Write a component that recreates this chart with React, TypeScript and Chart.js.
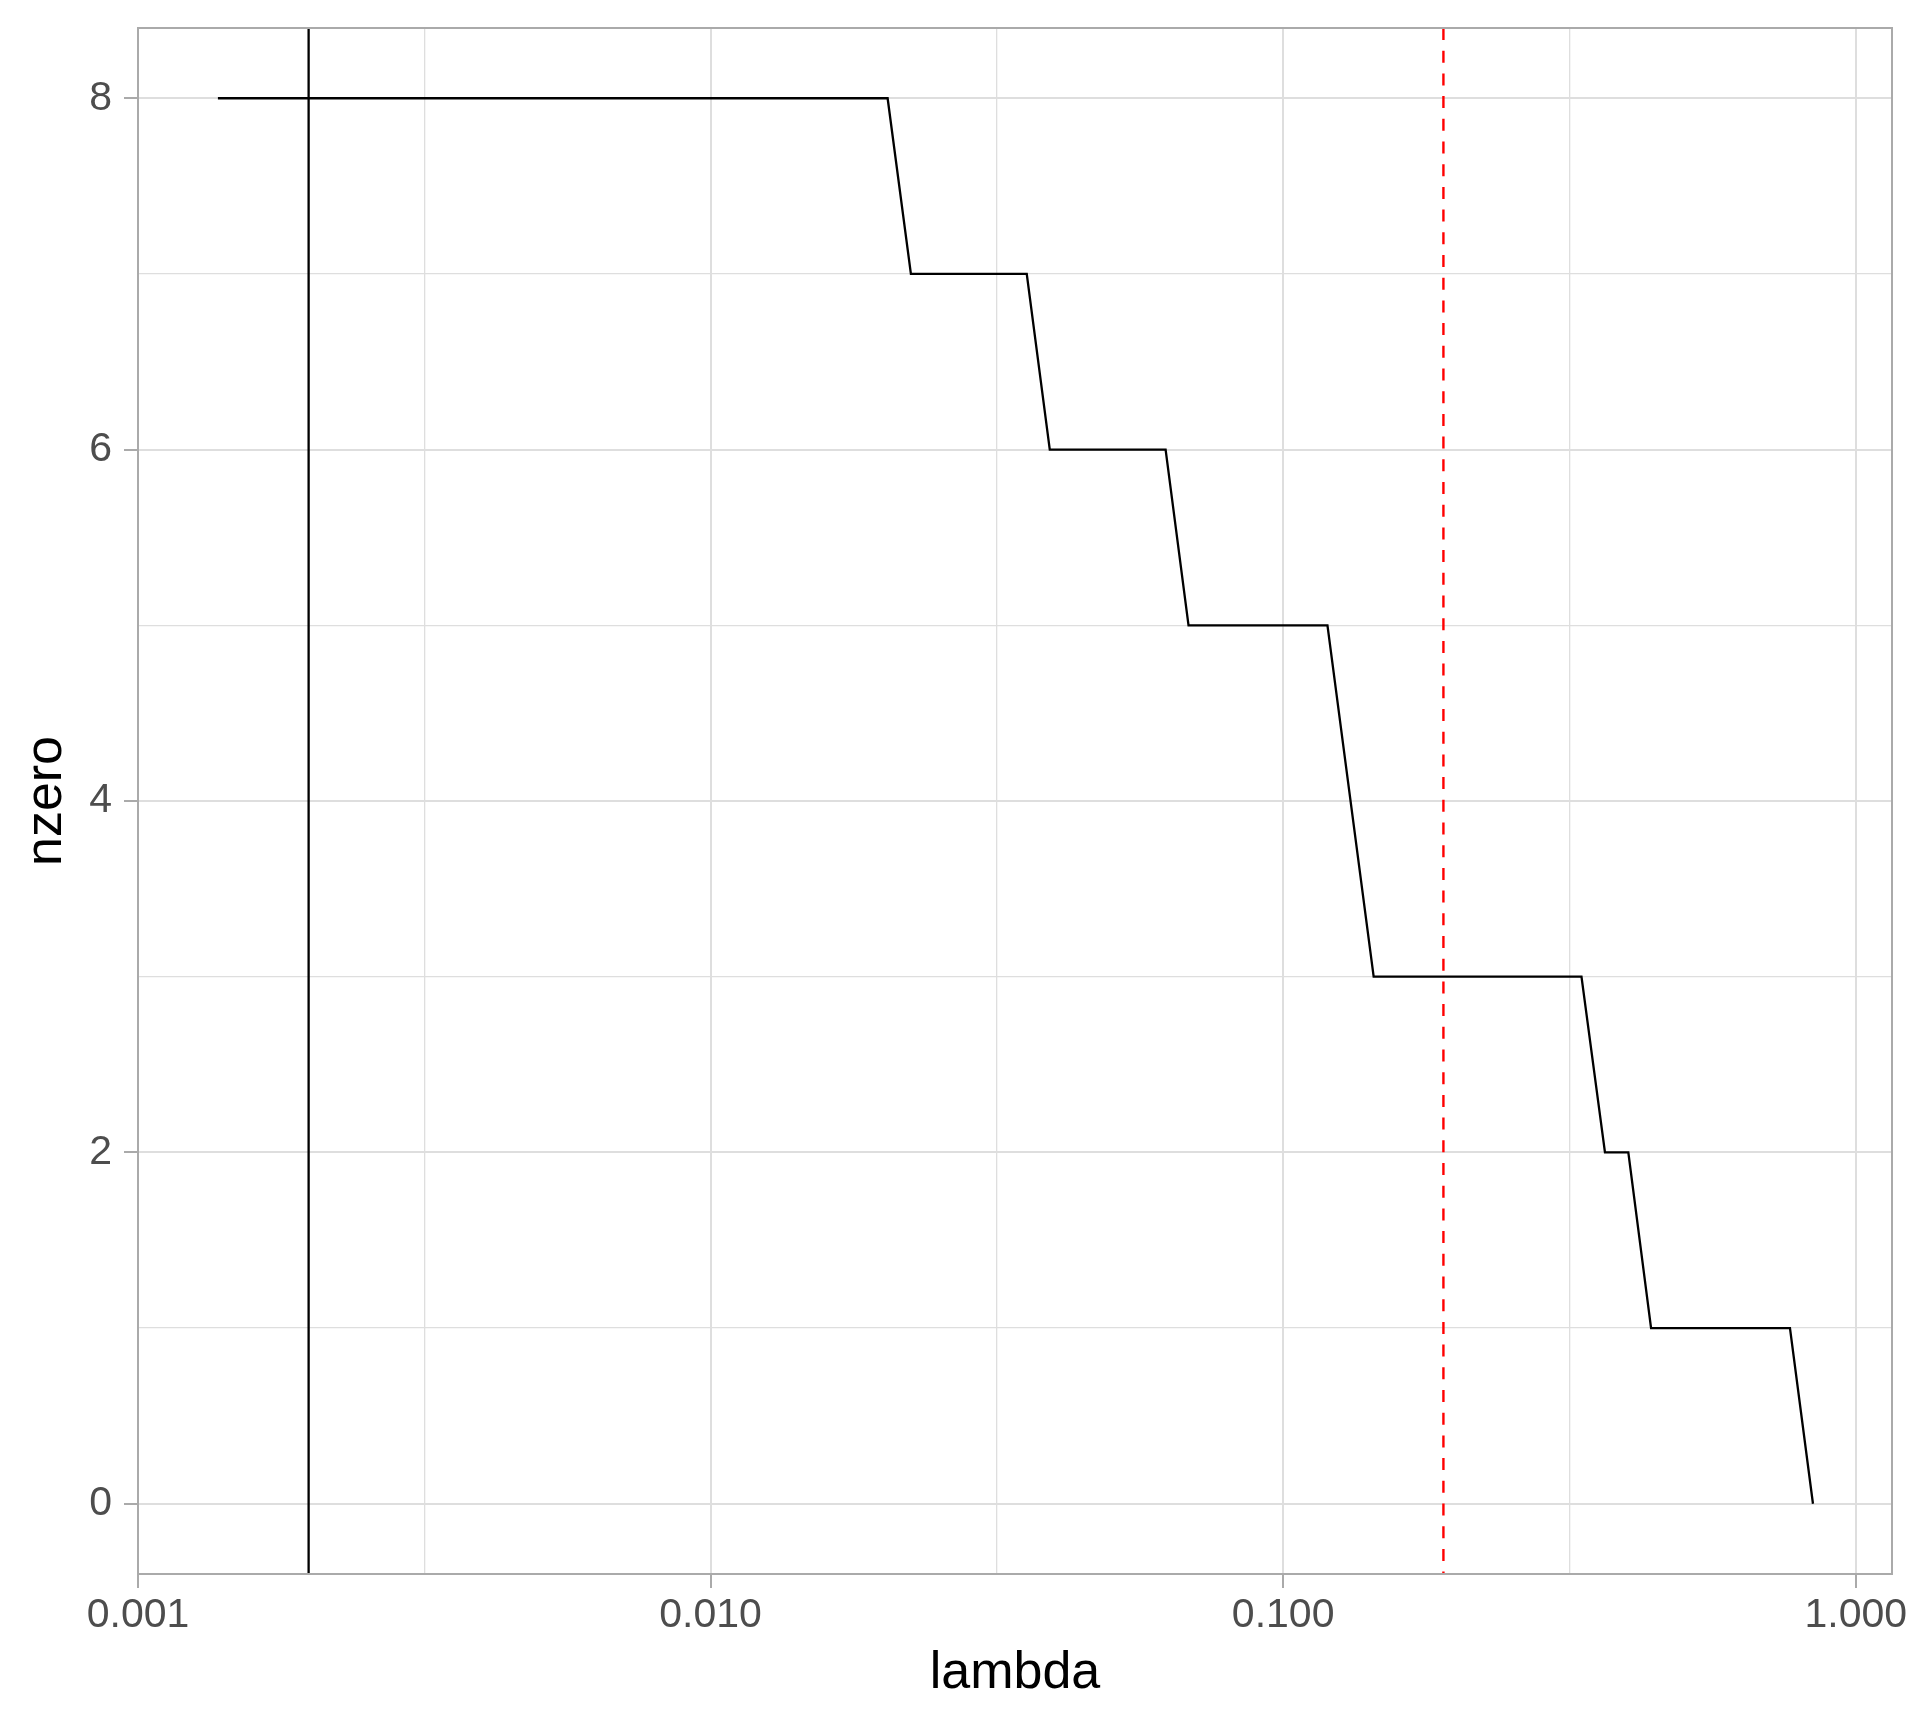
import React, { useEffect, useRef } from "react";
import { Chart, registerables } from "chart.js";

Chart.register(...registerables);

// ---- data ----
const lambdaValues = [
  0.001379, 0.02038, 0.02238, 0.03566, 0.03912, 0.06233, 0.06835, 0.1195,
  0.1439, 0.3319, 0.3648, 0.4007, 0.4391, 0.7676, 0.842,
];
const nzeroValues = [8, 8, 7, 7, 6, 6, 5, 5, 3, 3, 2, 2, 1, 1, 0];
const solidVLine = 0.001986;
const dashedVLine = 0.1905;

const xMajorTicks = [0.001, 0.01, 0.1, 1];
const xTickLabels = ["0.001", "0.010", "0.100", "1.000"];
const xMinorTicks = [0.0031623, 0.031623, 0.31623];
const yMajorTicks = [0, 2, 4, 6, 8];
const yTickLabels = ["0", "2", "4", "6", "8"];
const yMinorTicks = [1, 3, 5, 7];
const xLimits = [0.001, 1.157];
const yLimits = [-0.4, 8.4];

const GRID = "#DEDEDE";
const BORDER = "#AAAAAA";
const TICKTXT = "#4D4D4D";
const FONT = "'Liberation Sans', Arial, Helvetica, sans-serif";

const isMinorX = (v: number) => xMinorTicks.some((m) => Math.abs(m - v) / m < 1e-3);
const isMinorY = (v: number) => yMinorTicks.includes(v);

const panelBorder = {
  id: "panelBorder",
  afterDraw(chart: any) {
    const { ctx, chartArea } = chart;
    ctx.save();
    ctx.strokeStyle = BORDER;
    ctx.lineWidth = 2;
    ctx.strokeRect(
      chartArea.left,
      chartArea.top,
      chartArea.right - chartArea.left,
      chartArea.bottom - chartArea.top
    );
    ctx.restore();
  },
};

export default function App() {
  const ref = useRef<HTMLCanvasElement | null>(null);

  useEffect(() => {
    if (!ref.current) return;
    Chart.defaults.font.family = FONT;
    const stepData = lambdaValues.map((x, i) => ({ x, y: nzeroValues[i] }));
    const chart = new Chart(ref.current, {
      type: "line",
      data: {
        datasets: [
          {
            data: [
              { x: dashedVLine, y: yLimits[1] },
              { x: dashedVLine, y: yLimits[0] },
            ],
            borderColor: "#FF0000",
            borderWidth: 2.4,
            borderDash: [12, 10.7],
            pointRadius: 0,
            tension: 0,
            order: 1,
          },
          {
            data: [
              { x: solidVLine, y: yLimits[1] },
              { x: solidVLine, y: yLimits[0] },
            ],
            borderColor: "#000000",
            borderWidth: 2.3,
            pointRadius: 0,
            tension: 0,
            order: 2,
          },
          {
            data: stepData,
            borderColor: "#000000",
            borderWidth: 2.3,
            pointRadius: 0,
            tension: 0,
            order: 3,
          },
        ],
      },
      options: {
        responsive: false,
        animation: false,
        devicePixelRatio: 1,
        layout: { padding: { left: 0, top: 28, right: 28, bottom: 0 } },
        plugins: {
          legend: { display: false },
          tooltip: { enabled: false },
          title: { display: false },
        },
        scales: {
          x: {
            type: "logarithmic",
            position: "bottom",
            min: xLimits[0],
            max: xLimits[1],
            afterBuildTicks: (scale: any) => {
              const vals = [...xMajorTicks, ...xMinorTicks].sort((a, b) => a - b);
              scale.ticks = vals.map((v) => ({ value: v }));
            },
            afterFit: (scale: any) => {
              scale.height = 154;
              scale.paddingLeft = 0;
              scale.paddingRight = 0;
            },
            ticks: {
              autoSkip: false,
              maxRotation: 0,
              minRotation: 0,
              padding: 3,
              color: TICKTXT,
              font: { size: 41, family: FONT },
              callback: (value: any) => {
                const v = Number(value);
                const i = xMajorTicks.findIndex((m) => Math.abs(m - v) / m < 1e-6);
                return i >= 0 ? xTickLabels[i] : "";
              },
            },
            grid: {
              color: GRID,
              lineWidth: (ctx: any) => (ctx.tick && isMinorX(ctx.tick.value) ? 1.3 : 2),
              drawTicks: true,
              tickLength: 14,
              tickWidth: 2,
              tickColor: (ctx: any) =>
                ctx.tick && isMinorX(ctx.tick.value) ? "rgba(0,0,0,0)" : BORDER,
            },
            border: { display: false },
            title: {
              display: true,
              text: "lambda",
              color: "#000000",
              font: { size: 52, family: FONT, lineHeight: 1 },
              padding: { top: 0, bottom: 28 },
            },
          },
          y: {
            type: "linear",
            position: "left",
            min: yLimits[0],
            max: yLimits[1],
            afterBuildTicks: (scale: any) => {
              const vals = [...yMajorTicks, ...yMinorTicks].sort((a, b) => a - b);
              scale.ticks = vals.map((v) => ({ value: v }));
            },
            afterFit: (scale: any) => {
              scale.width = 138;
              scale.paddingTop = 0;
              scale.paddingBottom = 0;
            },
            ticks: {
              autoSkip: false,
              padding: 12,
              color: TICKTXT,
              font: { size: 41, family: FONT },
              callback: (value: any) => {
                const i = yMajorTicks.indexOf(Number(value));
                return i >= 0 ? yTickLabels[i] : "";
              },
            },
            grid: {
              color: GRID,
              lineWidth: (ctx: any) => (ctx.tick && isMinorY(ctx.tick.value) ? 1.3 : 2),
              drawTicks: true,
              tickLength: 14,
              tickWidth: 2,
              tickColor: (ctx: any) =>
                ctx.tick && isMinorY(ctx.tick.value) ? "rgba(0,0,0,0)" : BORDER,
            },
            border: { display: false },
            title: {
              display: true,
              text: "nzero",
              color: "#000000",
              font: { size: 52, family: FONT, lineHeight: 1 },
              padding: { top: 21, bottom: 0 },
            },
          },
        },
      },
      plugins: [panelBorder],
    } as any);
    return () => chart.destroy();
  }, []);

  return (
    <div
      style={{
        position: "absolute",
        left: 0,
        top: 0,
        width: 1920,
        height: 1728,
        background: "#FFFFFF",
      }}
    >
      <canvas ref={ref} width={1920} height={1728} style={{ width: 1920, height: 1728 }} />
    </div>
  );
}
